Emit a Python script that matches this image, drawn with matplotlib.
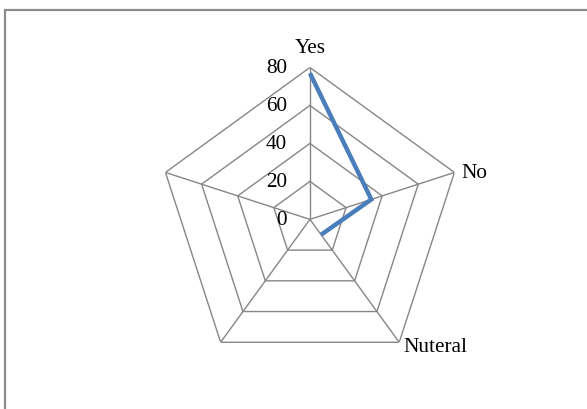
import numpy as np
import matplotlib
matplotlib.use("Agg")
import matplotlib.pyplot as plt
from matplotlib.patches import Rectangle

categories = ["Yes", "No", "Nuteral", "", ""]
values = [77, 34, 10]          # only the first three categories have data
ring_values = [0, 20, 40, 60, 80]
tick_labels = ["0", "20", "40", "60", "80"]

plt.rcParams['font.family'] = ['Liberation Serif', 'DejaVu Serif']

fig = plt.figure(figsize=(5.87, 4.10), dpi=100)
fig.patch.set_facecolor('white')

# outer border (only left/top visible in reference)
fig.add_artist(Rectangle((4.5 / 587, -0.2), 1.2, 1.2 - 10.5 / 410,
                         transform=fig.transFigure, fill=False,
                         edgecolor='#8c8c8c', linewidth=1.6))

ax = fig.add_axes([0.269, 0.092, 0.518, 0.741], projection='polar')
ax.set_theta_offset(np.pi / 2)
ax.set_theta_direction(-1)
ax.set_ylim(0, ring_values[-1])
ax.grid(False)
ax.set_xticks([])
ax.set_yticks([])
ax.spines['polar'].set_visible(False)
ax.set_facecolor('none')

n = len(categories)
angles = np.linspace(0, 2 * np.pi, n, endpoint=False)
grid_col = '#868686'

# pentagon rings
closed = np.concatenate([angles, angles[:1]])
for r in ring_values[1:]:
    ax.plot(closed, [r] * (n + 1), color=grid_col, lw=1.0, zorder=1)
# spokes
for a in angles:
    ax.plot([a, a], [0, ring_values[-1]], color=grid_col, lw=1.0, zorder=1)

# data line
ax.plot(angles[:len(values)], values, color='#4A7EBB', lw=3.2,
        solid_capstyle='butt', solid_joinstyle='miter', zorder=3)

px = 72 / 100.0
fs = 15.3
# ring labels
for r, lab in zip(ring_values, tick_labels):
    ax.annotate(lab, xy=(0, r), xytext=(-23 * px, 0), textcoords='offset points',
                ha='right', va='center', fontsize=fs, color='black')

# category labels
ax.annotate(categories[0], xy=(angles[0], ring_values[-1]), xytext=(0, 10 * px),
            textcoords='offset points', ha='center', va='bottom', fontsize=fs)
ax.annotate(categories[1], xy=(angles[1], ring_values[-1]), xytext=(7 * px, 0),
            textcoords='offset points', ha='left', va='center', fontsize=fs)
ax.annotate(categories[2], xy=(angles[2], ring_values[-1]), xytext=(4 * px, 5 * px),
            textcoords='offset points', ha='left', va='top', fontsize=fs)

fig.savefig("out.png", dpi=100)
